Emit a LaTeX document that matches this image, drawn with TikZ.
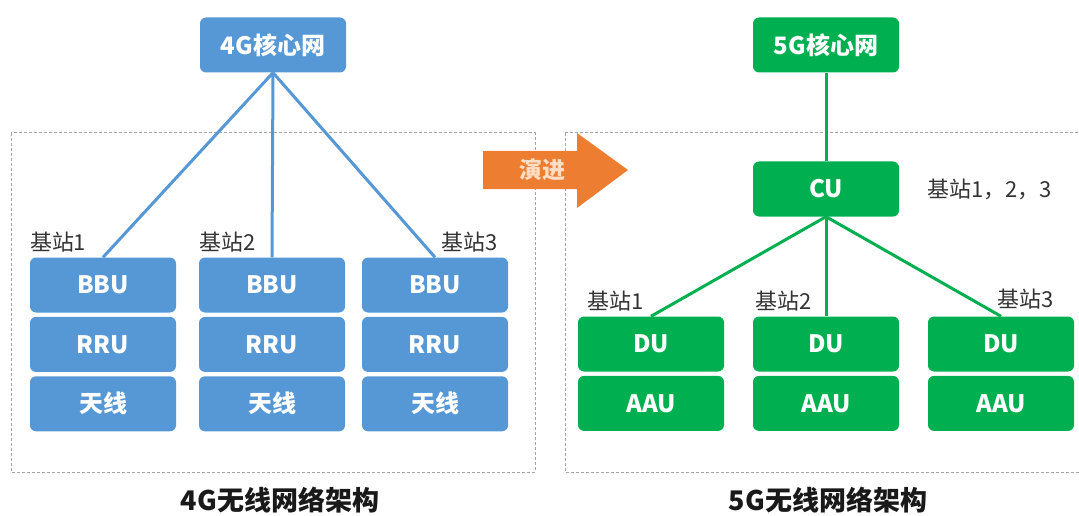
\documentclass[tikz,border=0pt]{standalone}
\usepackage{fontspec}
\setmainfont{Noto Sans CJK SC}
\definecolor{Blue4G}{RGB}{86,152,214}
\definecolor{Green5G}{RGB}{0,176,80}
\definecolor{Orange}{RGB}{237,125,49}
\definecolor{Peach}{RGB}{253,222,196}
\definecolor{Frame}{RGB}{165,165,165}
\usetikzlibrary{positioning}

\begin{document}
\begin{tikzpicture}[x=1pt,y=-1pt,
    box/.style={rounded corners=6pt, minimum width=146pt, minimum height=55pt,
        inner sep=0pt, text=white, font=\fontsize{24}{29}\selectfont\bfseries},
    box4/.style={box, fill=Blue4G},
    box5/.style={box, fill=Green5G},
    link4/.style={draw=Blue4G, line width=3pt},
    link5/.style={draw=Green5G, line width=3pt},
    lbl/.style={font=\fontsize{22}{26}\selectfont, text=black!80, inner sep=0pt},
    title/.style={font=\fontsize{27}{32}\selectfont\bfseries, text=black!90},
    frame/.style={draw=Frame, line width=1pt, dash pattern=on 3pt off 2pt}]

    \useasboundingbox (0,0) rectangle (1079,516);

    % dashed frames
    \draw[frame] (11,133) rectangle (535,472);
    \draw[frame] (565,133) rectangle (1085,472);

    % 4G side
    \node[box4] (core4) at (273,45) {4G核心网};
    \node[box4] (bbu1) at (103,285) {BBU};
    \node[box4] (bbu2) at (272,285) {BBU};
    \node[box4] (bbu3) at (435,285) {BBU};
    \node[box4, below=4pt of bbu1] (rru1) {RRU};
    \node[box4, below=4pt of bbu2] (rru2) {RRU};
    \node[box4, below=4pt of bbu3] (rru3) {RRU};
    \node[box4, below=4pt of rru1] (ant1) {天线};
    \node[box4, below=4pt of rru2] (ant2) {天线};
    \node[box4, below=4pt of rru3] (ant3) {天线};

    \node[lbl, anchor=south west] (st41) at ([yshift=5pt]bbu1.north west) {基站1};
    \node[lbl, anchor=south west] (st42) at ([yshift=5pt]bbu2.north west) {基站2};
    \node[lbl, anchor=south east] (st43) at ([xshift=-10pt,yshift=5pt]bbu3.north east) {基站3};

    \draw[link4] (core4.south) -- (bbu1.north);
    \draw[link4] (core4.south) -- (bbu2.north);
    \draw[link4] (core4.south) -- (bbu3.north);

    \node[title] (title4) at (280,500) {4G无线网络架构};

    % arrow
    \fill[Orange] (483,151) -- (577,151) -- (577,133) -- (628,170)
        -- (577,208) -- (577,189) -- (483,189) -- cycle;
    \node[font=\fontsize{23}{28}\selectfont\bfseries, text=Peach] (evolve) at (542,170) {演进};

    % 5G side
    \node[box5] (core5) at (826,45) {5G核心网};
    \node[box5] (cu) at (826,189) {CU};
    \node[box5] (du1) at (651,344) {DU};
    \node[box5] (du2) at (826,344) {DU};
    \node[box5] (du3) at (1001,344) {DU};
    \node[box5, below=4pt of du1] (aau1) {AAU};
    \node[box5, below=4pt of du2] (aau2) {AAU};
    \node[box5, below=4pt of du3] (aau3) {AAU};

    \node[lbl, anchor=west] (st5all) at ([xshift=28pt]cu.east) {基站1，2，3};
    \node[lbl, anchor=south west] (st51) at ([xshift=9pt,yshift=5pt]du1.north west) {基站1};
    \node[lbl, anchor=south west] (st52) at ([xshift=2pt,yshift=5pt]du2.north west) {基站2};
    \node[lbl, anchor=south east] (st53) at ([xshift=-20pt,yshift=7pt]du3.north east) {基站3};

    \draw[link5] (core5.south) -- (cu.north);
    \draw[link5] (cu.south) -- (du1.north);
    \draw[link5] (cu.south) -- (du2.north);
    \draw[link5] (cu.south) -- (du3.north);

    \node[title] (title5) at (828,500) {5G无线网络架构};

\end{tikzpicture}
\end{document}
